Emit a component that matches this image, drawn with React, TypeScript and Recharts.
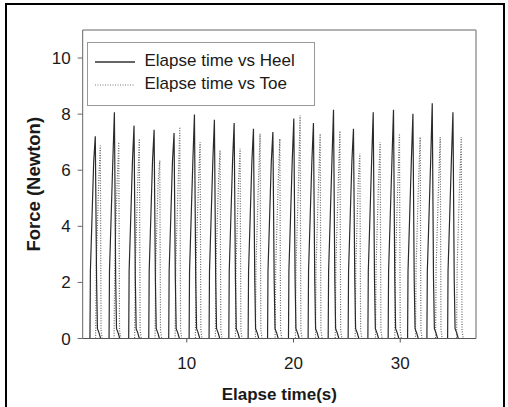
import { LineChart, Line, XAxis, YAxis, ReferenceLine } from "recharts";

const heelPeakTime = [1.43, 3.22, 5.06, 6.94, 8.81, 10.72, 12.59, 14.44, 16.25, 18.07, 20.03, 21.87, 23.75, 25.62, 27.47, 29.37, 31.19, 33.0, 34.94];
const heelPeakForce = [7.21, 8.07, 7.59, 7.44, 7.33, 7.99, 7.8, 7.68, 7.48, 7.36, 7.84, 7.68, 8.16, 7.48, 8.07, 8.16, 8.01, 8.39, 8.07];
const toePeakTime = [1.9, 3.63, 5.56, 7.47, 9.35, 11.25, 13.12, 15.0, 16.87, 18.72, 20.62, 22.5, 24.35, 26.22, 28.12, 29.93, 31.87, 33.75, 35.72];
const toePeakForce = [6.88, 7.0, 7.12, 6.35, 7.54, 7.0, 6.71, 6.77, 7.3, 7.12, 7.95, 7.3, 7.4, 6.59, 7.0, 7.3, 7.18, 7.18, 7.18];

// outline of one step around its peak: [seconds from peak, force]
const heelRise: [number, number][] = [[-0.5, 0], [-0.46, 2.4], [-0.3, 4.4], [-0.15, 6.3]];
const heelFall: [number, number][] = [[0.12, 2.1], [0.2, 0.35], [0.35, 0.2], [0.5, 0]];
const toeRise: [number, number][] = [[-0.44, 0], [-0.38, 2.6], [-0.15, 5.6]];
const toeFall: [number, number][] = [[0.07, 0.3], [0.18, 0]];

const xTicks = [10, 20, 30];
const yTicks = [0, 2, 4, 6, 8, 10];

const font = "'Liberation Sans', Arial, sans-serif";

function buildSeries(
  times: number[],
  forces: number[],
  rise: [number, number][],
  fall: [number, number][]
) {
  const pts = [{ t: 0.3, f: 0 }];
  times.forEach((p, i) => {
    rise.forEach(([dt, f]) => pts.push({ t: p + dt, f }));
    pts.push({ t: p, f: forces[i] });
    fall.forEach(([dt, f]) => pts.push({ t: p + dt, f }));
  });
  pts.push({ t: 37, f: 0 });
  return pts;
}

const heelData = buildSeries(heelPeakTime, heelPeakForce, heelRise, heelFall);
const toeData = buildSeries(toePeakTime, toePeakForce, toeRise, toeFall);

const ChartLegend = () => (
  <div
    style={{
      position: "absolute",
      left: 87,
      top: 41.5,
      width: 228,
      height: 64,
      boxSizing: "border-box",
      border: "1.5px solid #999",
      background: "#fff",
      fontFamily: font,
      fontSize: 17,
      color: "#1a1a1a",
    }}
  >
    <svg width={60} height={60} style={{ position: "absolute", left: 0, top: 0 }}>
      <line x1={7} x2={47} y1={19} y2={19} stroke="#333" strokeWidth={1.3} />
      <line x1={7} x2={47} y1={42} y2={42} stroke="#777" strokeWidth={1.2} strokeDasharray="1 1.5" />
    </svg>
    <span style={{ position: "absolute", left: 56.5, top: 8.5, lineHeight: "20px", whiteSpace: "nowrap" }}>
      Elapse time vs Heel
    </span>
    <span style={{ position: "absolute", left: 56.5, top: 31, lineHeight: "20px", whiteSpace: "nowrap" }}>
      Elapse time vs Toe
    </span>
  </div>
);

export default function App() {
  return (
    <div
      style={{
        position: "absolute",
        left: 0,
        top: 0,
        width: 508,
        height: 407,
        overflow: "hidden",
        background: "#fff",
      }}
    >
      <div
        style={{
          position: "absolute",
          left: 5,
          top: 3,
          width: 500,
          height: 430,
          boxSizing: "border-box",
          border: "2px solid #000",
        }}
      />
      <div style={{ position: "absolute", left: 0, top: 0 }}>
        <LineChart width={508} height={407} margin={{ top: 30, right: 32, bottom: 0, left: 0 }}>
          <XAxis
            type="number"
            dataKey="t"
            domain={[0.25, 37.1]}
            ticks={xTicks}
            allowDataOverflow
            height={68.5}
            tickSize={4}
            tickMargin={14}
            stroke="#555"
            tick={{ fill: "#1a1a1a", fontSize: 17, fontFamily: font }}
            label={{
              value: "Elapse time(s)",
              position: "insideBottom",
              offset: 7,
              style: { fill: "#1a1a1a", fontSize: 17, fontWeight: "bold", fontFamily: font },
            }}
          />
          <YAxis
            type="number"
            domain={[0, 11]}
            ticks={yTicks}
            allowDataOverflow
            width={82.7}
            tickSize={5}
            tickMargin={7}
            stroke="#666"
            tick={{ fill: "#1a1a1a", fontSize: 17, fontFamily: font }}
            label={{
              value: "Force (Newton)",
              angle: -90,
              position: "insideLeft",
              offset: 33,
              style: { fill: "#1a1a1a", fontSize: 18.5, fontWeight: "bold", fontFamily: font, textAnchor: "middle" },
            }}
          />
          <ReferenceLine y={11} stroke="#999" strokeWidth={1.5} />
          <ReferenceLine x={37.1} stroke="#999" strokeWidth={1.5} />
          <Line
            data={toeData}
            dataKey="f"
            type="linear"
            stroke="#666"
            strokeWidth={1.2}
            strokeDasharray="1 1.5"
            dot={false}
            isAnimationActive={false}
          />
          <Line
            data={heelData}
            dataKey="f"
            type="linear"
            stroke="#2a2a2a"
            strokeWidth={1.2}
            dot={false}
            isAnimationActive={false}
          />
        </LineChart>
      </div>
      <ChartLegend />
    </div>
  );
}
